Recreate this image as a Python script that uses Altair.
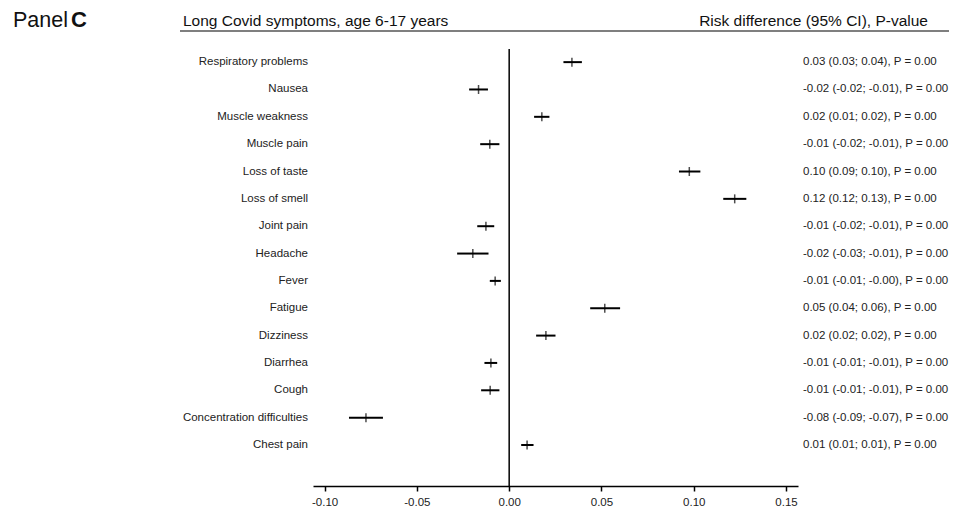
import altair as alt
import pandas as pd

symptoms = ["Respiratory problems", "Nausea", "Muscle weakness", "Muscle pain",
            "Loss of taste", "Loss of smell", "Joint pain", "Headache", "Fever",
            "Fatigue", "Dizziness", "Diarrhea", "Cough",
            "Concentration difficulties", "Chest pain"]
estimate = [0.034, -0.0166, 0.0177, -0.0105, 0.0976, 0.1222, -0.0126, -0.0197,
            -0.0076, 0.0518, 0.0199, -0.0099, -0.0103, -0.0776, 0.0097]
ci_low = [0.0294, -0.0217, 0.0135, -0.0157, 0.0920, 0.1160, -0.0173, -0.0282,
          -0.0105, 0.0439, 0.0146, -0.0134, -0.0152, -0.0868, 0.0065]
ci_high = [0.0394, -0.0115, 0.0218, -0.0053, 0.1036, 0.1285, -0.0081, -0.0112,
           -0.0045, 0.0601, 0.0251, -0.0065, -0.0053, -0.0684, 0.0132]
result_text = ["0.03 (0.03; 0.04), P = 0.00", "-0.02 (-0.02; -0.01), P = 0.00",
               "0.02 (0.01; 0.02), P = 0.00", "-0.01 (-0.02; -0.01), P = 0.00",
               "0.10 (0.09; 0.10), P = 0.00", "0.12 (0.12; 0.13), P = 0.00",
               "-0.01 (-0.02; -0.01), P = 0.00", "-0.02 (-0.03; -0.01), P = 0.00",
               "-0.01 (-0.01; -0.00), P = 0.00", "0.05 (0.04; 0.06), P = 0.00",
               "0.02 (0.02; 0.02), P = 0.00", "-0.01 (-0.01; -0.01), P = 0.00",
               "-0.01 (-0.01; -0.01), P = 0.00", "-0.08 (-0.09; -0.07), P = 0.00",
               "0.01 (0.01; 0.01), P = 0.00"]
x_ticks = [-0.10, -0.05, 0.0, 0.05, 0.10, 0.15]

df = pd.DataFrame({
    "symptom": symptoms,
    "est": estimate,
    "lo": ci_low,
    "hi": ci_high,
    "txt": result_text,
    "row": list(range(len(symptoms))),
})

FONT = "Liberation Sans"
xscale = alt.Scale(domain=[-0.1063, 0.1565], nice=False, zero=False)
yscale = alt.Scale(domain=[-0.48, 15.50], reverse=True, nice=False, zero=False)
Y = alt.Y("row:Q", scale=yscale, axis=None)

base = alt.Chart(df)

ci = base.mark_rule(color="black", strokeWidth=2).encode(
    x=alt.X("lo:Q", scale=xscale,
            axis=alt.Axis(values=x_ticks, title=None, grid=False,
                          labelExpr="replace(format(datum.value, '.2f'), '\u2212', '-')",
                          domainColor="black", domainWidth=1.5, tickColor="black",
                          tickWidth=1.5, tickSize=5, labelFont=FONT, labelFontSize=11.5,
                          labelColor="#222", labelPadding=5)),
    x2="hi:Q",
    y=Y,
)
pt = base.mark_tick(color="black", orient="vertical", size=9, thickness=1.5).encode(
    x=alt.X("est:Q", scale=xscale), y=Y)

zero = alt.Chart(pd.DataFrame({"z": [0.0]})).mark_rule(color="black", strokeWidth=1.5).encode(
    x=alt.X("z:Q", scale=xscale))

labels = base.mark_text(align="right", baseline="middle", font=FONT, fontSize=11.5,
                        color="#222").encode(x=alt.value(-5), y=Y, text="symptom:N")
results = base.mark_text(align="left", baseline="middle", font=FONT, fontSize=11.5,
                         color="#222").encode(x=alt.value(490), y=Y, text="txt:N")

hdr = pd.DataFrame({"t": ["Long Covid symptoms, age 6-17 years"]})
title_left = alt.Chart(hdr).mark_text(align="left", baseline="alphabetic", font=FONT,
                                      fontSize=15.5, color="#111").encode(
    x=alt.value(-130), y=alt.value(-23), text="t:N")
hdr2 = pd.DataFrame({"t": ["Risk difference (95% CI), P-value"]})
title_right = alt.Chart(hdr2).mark_text(align="right", baseline="alphabetic", font=FONT,
                                        fontSize=15.5, color="#111").encode(
    x=alt.value(615), y=alt.value(-23), text="t:N")
hline = alt.Chart(hdr).mark_rule(color="black", strokeWidth=1.2).encode(
    x=alt.value(-133), x2=alt.value(636), y=alt.value(-18))
pnl = pd.DataFrame({"t": ["Panel"]})
panel_word = alt.Chart(pnl).mark_text(align="left", baseline="alphabetic", font=FONT,
                                      fontSize=21.5, color="#111").encode(
    x=alt.value(-300), y=alt.value(-22), text="t:N")
pc = pd.DataFrame({"t": ["C"]})
panel_letter = alt.Chart(pc).mark_text(align="left", baseline="alphabetic", font=FONT,
                                       fontSize=22, fontWeight="bold", color="#111").encode(
    x=alt.value(-242), y=alt.value(-22), text="t:N")

chart = alt.layer(zero, ci, pt, labels, results, title_left, title_right, hline,
                  panel_word, panel_letter).properties(
    width=485, height=437,
    autosize=alt.AutoSizeParams(type="none"),
    padding={"left": 305, "top": 41, "right": 155, "bottom": 24},
    background="white",
).configure_view(strokeWidth=0, stroke=None)

chart.save("out.html", embed_options={"renderer": "svg", "actions": False})
